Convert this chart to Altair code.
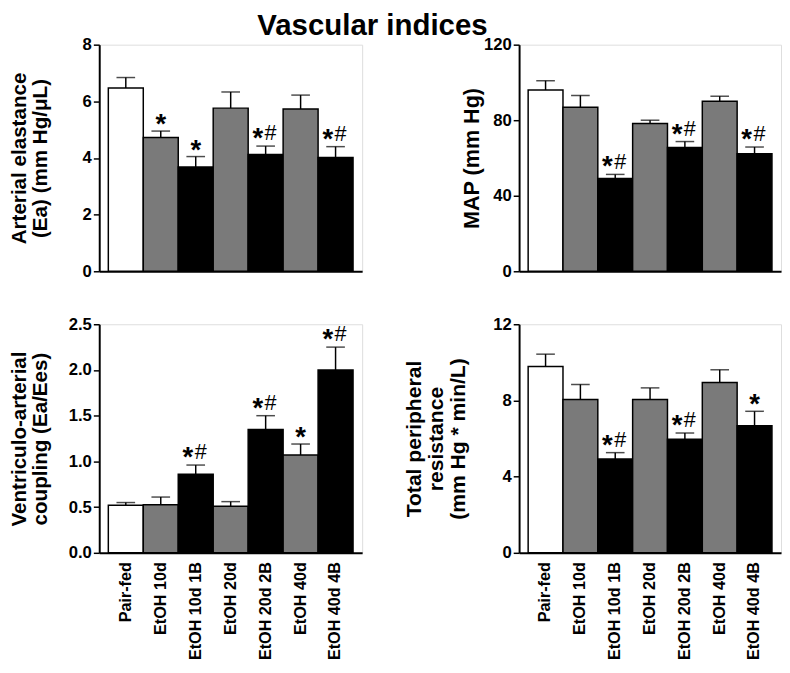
import altair as alt
import pandas as pd

groups = ["Pair-fed", "EtOH 10d", "EtOH 10d 1B", "EtOH 20d", "EtOH 20d 2B", "EtOH 40d", "EtOH 40d 4B"]
fills = ["#ffffff", "#7a7a7a", "#000000", "#7a7a7a", "#000000", "#7a7a7a", "#000000"]

ea_mean = [6.47, 4.72, 3.68, 5.76, 4.12, 5.73, 4.02]
ea_sem = [0.37, 0.23, 0.37, 0.57, 0.30, 0.49, 0.38]
ea_ann = ["", "*", "*", "", "*#", "", "*#"]

map_mean = [96.0, 86.9, 49.2, 78.2, 65.5, 90.0, 62.3]
map_sem = [4.9, 6.2, 2.1, 1.8, 3.2, 2.7, 3.5]
map_ann = ["", "", "*#", "", "*#", "", "*#"]

vac_mean = [0.52, 0.525, 0.86, 0.51, 1.35, 1.07, 2.00]
vac_sem = [0.03, 0.085, 0.10, 0.05, 0.15, 0.12, 0.25]
vac_ann = ["", "", "*#", "", "*#", "*", "*#"]

tpr_mean = [9.78, 8.05, 4.93, 8.05, 5.97, 8.94, 6.67]
tpr_sem = [0.65, 0.79, 0.33, 0.61, 0.32, 0.67, 0.76]
tpr_ann = ["", "", "*#", "", "*#", "", "*"]

FONT = "Liberation Sans"


def panel(mean, sem, ann, ymax, ticks, fmt, title, tsize, tx, tlh,
          width, height, show_labels):
    df = pd.DataFrame({
        "group": groups,
        "fill": fills,
        "mean": mean,
        "upper": [m + s for m, s in zip(mean, sem)],
        "ann": ann,
    })

    if show_labels:
        xaxis = alt.Axis(title=None, ticks=False, labelAngle=-90, labelFontSize=16.5,
                         labelFontWeight="bold", labelPadding=9, labelColor="black",
                         labelFont=FONT, domainColor="black", domainWidth=2)
    else:
        xaxis = alt.Axis(title=None, ticks=False, labels=False,
                         domainColor="black", domainWidth=2)
    xenc = alt.X("group:N", sort=groups, axis=xaxis,
                 scale=alt.Scale(paddingInner=0, paddingOuter=0.26))
    yscale = alt.Scale(domain=[0, ymax], nice=False, zero=True)
    yaxis = alt.Axis(values=ticks, format=fmt, title=title, titleFont=FONT,
                     titleFontSize=tsize, titleFontWeight="bold", titleColor="black",
                     titleX=tx, titleBaseline="alphabetic", titleAlign="center",
                     titleLineHeight=tlh, labelFontSize=17, labelFontWeight="bold",
                     labelFont=FONT, labelColor="black", labelPadding=2, tickSize=6,
                     tickWidth=1.5, tickColor="black", domainColor="black",
                     domainWidth=2, grid=False)

    base = alt.Chart(df)
    bars = base.mark_bar(stroke="black", strokeWidth=1.5).encode(
        x=xenc,
        y=alt.Y("mean:Q", scale=yscale, axis=yaxis),
        fill=alt.Fill("fill:N", scale=None),
    )
    err = base.mark_rule(color="black", strokeWidth=1.5).encode(
        x=xenc,
        y=alt.Y("mean:Q", scale=yscale, axis=yaxis),
        y2="upper:Q",
    )
    cap = base.mark_tick(color="black", thickness=1.5, size=19).encode(
        x=xenc,
        y=alt.Y("upper:Q", scale=yscale, axis=yaxis),
    )
    star_alone = base.transform_filter("datum.ann == '*'").mark_text(
        text="*", font=FONT, fontSize=28, fontWeight="bold", baseline="alphabetic",
        dy=2, color="black").encode(
        x=xenc, y=alt.Y("upper:Q", scale=yscale, axis=yaxis))
    star_pair = base.transform_filter("datum.ann == '*#'").mark_text(
        text="*", font=FONT, fontSize=28, fontWeight="bold", baseline="alphabetic",
        dy=1, dx=-8, color="black").encode(
        x=xenc, y=alt.Y("upper:Q", scale=yscale, axis=yaxis))
    hash_ = base.transform_filter("datum.ann == '*#'").mark_text(
        text="#", font=FONT, fontSize=22, fontWeight="normal", baseline="alphabetic",
        dy=-6, dx=5, color="black").encode(
        x=xenc, y=alt.Y("upper:Q", scale=yscale, axis=yaxis))

    return alt.layer(bars, err, cap, star_alone, star_pair, hash_).properties(
        width=width, height=height)


p1 = panel(ea_mean, ea_sem, ea_ann, 8, [0, 2, 4, 6, 8], "d",
           ["Arterial elastance", "(Ea) (mm Hg/\u03bcL)"],
           21, -75, 21, 268, 231, False)
p2 = panel(map_mean, map_sem, map_ann, 120, [0, 40, 80, 120], "d",
           "MAP (mm Hg)", 22, -41, 22, 267, 231, False)
p3 = panel(vac_mean, vac_sem, vac_ann, 2.5, [0, 0.5, 1.0, 1.5, 2.0, 2.5], ".1f",
           ["Ventriculo-arterial", "coupling (Ea/Ees)"],
           21, -75, 21, 268, 233, True)
p4 = panel(tpr_mean, tpr_sem, tpr_ann, 12, [0, 4, 8, 12], "d",
           ["Total peripheral", "resistance", "(mm Hg * min/L)"],
           21.5, -101, 22.5, 267, 233, True)

chart = alt.concat(p1, p2, p3, p4, columns=2, bounds="flush",
                   spacing={"row": 54, "column": 160}).properties(
    title=alt.Title("Vascular indices", fontSize=30, fontWeight="bold", font=FONT,
                    anchor="middle", color="black", offset=-6, dx=-23),
    padding={"left": 0, "top": -3, "right": 0, "bottom": 0},
).configure_view(stroke=None).configure(font=FONT)

chart.save("out.html", embed_options={"renderer": "svg", "actions": False})
